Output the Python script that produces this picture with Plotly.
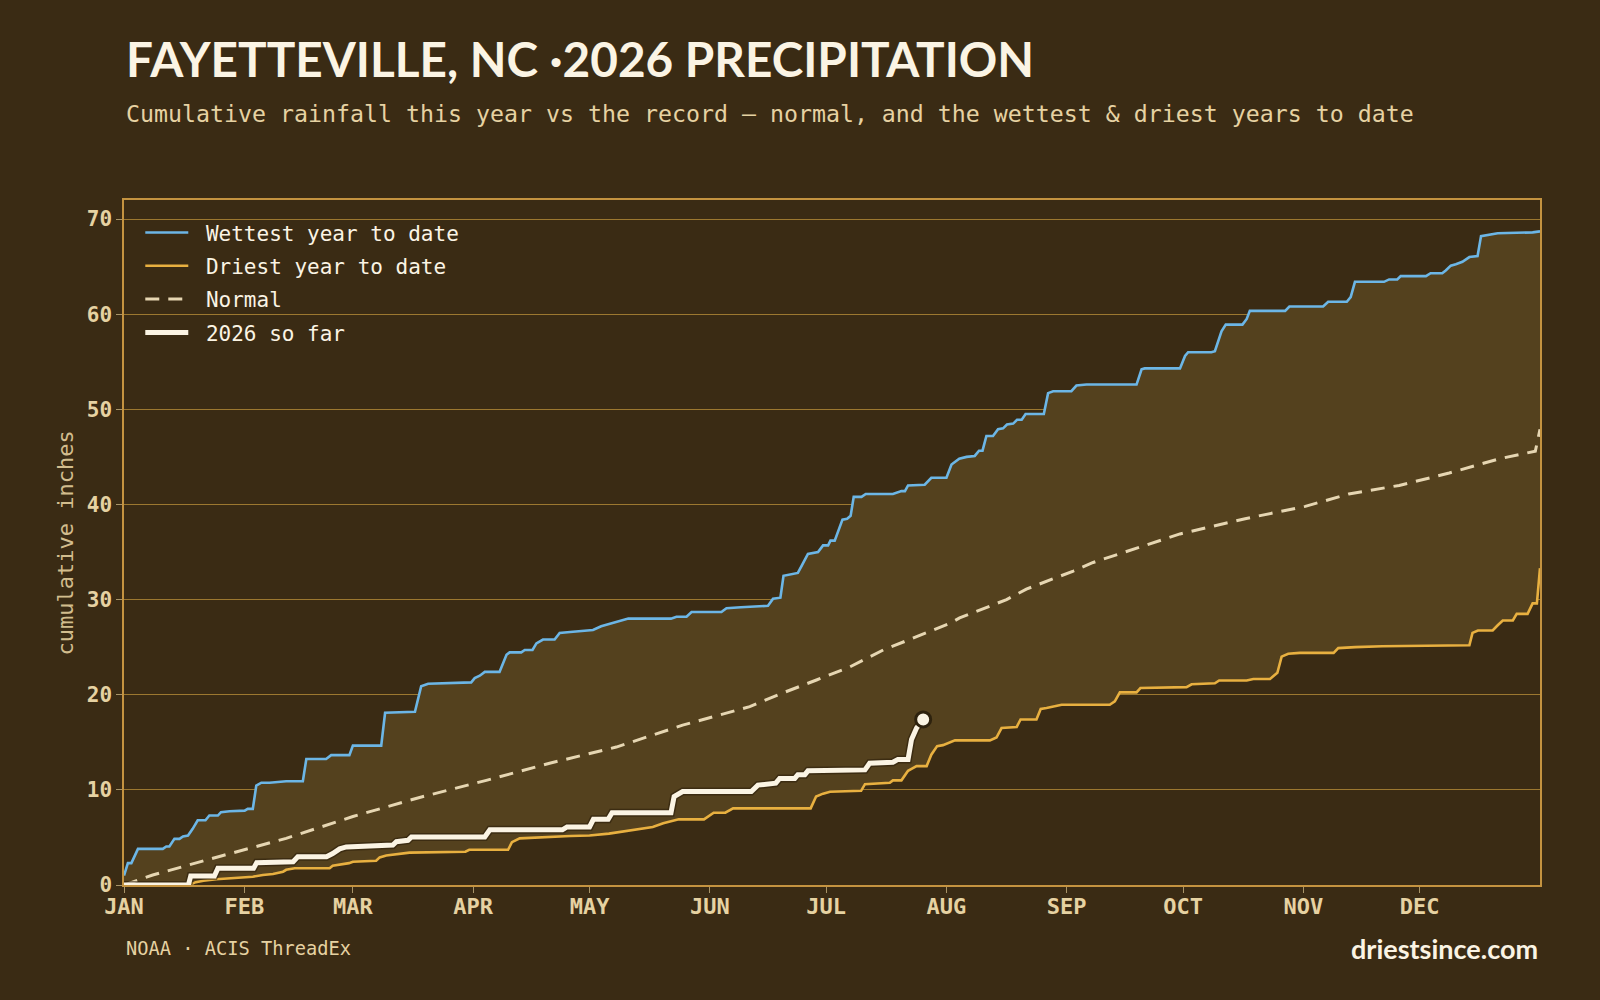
import pandas as pd
import plotly.graph_objects as go

# ---------------- data (day-of-year offsets from Jan 1, cumulative inches) ----------------
YEAR_START = "2026-01-01"
MONTH_STARTS = ["2026-01-01", "2026-02-01", "2026-03-01", "2026-04-01", "2026-05-01", "2026-06-01",
                "2026-07-01", "2026-08-01", "2026-09-01", "2026-10-01", "2026-11-01", "2026-12-01"]
MONTH_LABELS = ["JAN", "FEB", "MAR", "APR", "MAY", "JUN", "JUL", "AUG", "SEP", "OCT", "NOV", "DEC"]
Y_TICKS = [0, 10, 20, 30, 40, 50, 60, 70]

WET_DAY = [0, 1, 1.9, 3.6, 10, 10.9, 11.7, 13, 14.3, 15.2, 16.5, 17.7, 19, 21, 22, 24.2, 25, 27.2, 31.1,
           31.9, 33.2, 34.1, 35.4, 37.5, 41.8, 46.1, 47, 52.1, 53.4, 58.1, 59, 66.3, 67.3, 75, 76.6, 78.4,
           89.5, 90.4, 91.7, 93, 96.8, 98.6, 99.4, 102.4, 103.3, 105.3, 106.3, 108, 111, 112.3, 115,
           120.9, 123, 125.6, 130, 141, 142.4, 145, 146.3, 154, 155.3, 159, 166, 167.3, 169.2, 170, 172,
           173.7, 174.6, 176.3, 178.9, 180.2, 181.5, 182.1, 183.2, 185.2, 186.4, 187.3, 188.1, 190.1,
           191.2, 198.2, 200.4, 201.3, 202.1, 206.4, 208.1, 212, 213.3, 215.3, 217.2, 219.3, 220.4, 221.3,
           222.3, 224, 225.3, 226.6, 227.6, 229.2, 230.2, 231.4, 232.4, 237.1, 238.2, 239.5, 244.2, 245.5,
           248.1, 261, 262.3, 263.1, 272.2, 273.5, 274.3, 280.3, 281.2, 282.9, 284, 288.3, 289.4, 290.2,
           299.3, 300.4, 309.1, 310.4, 315.2, 316.2, 317.3, 324.8, 326.1, 328.2, 329.1, 335.6, 336.8,
           339.8, 340.7, 342, 343.3, 345, 346.8, 348.9, 349.8, 352.4, 354.1, 363.1, 365]
WET_VAL = [1.0, 2.3, 2.3, 3.8, 3.8, 4.05, 4.05, 4.85, 4.85, 5.1, 5.2, 5.9, 6.8, 6.8, 7.3, 7.3, 7.65, 7.75,
           7.82, 8.0, 8.0, 10.45, 10.75, 10.75, 10.9, 10.9, 13.25, 13.25, 13.65, 13.65, 14.65, 14.65, 18.1,
           18.2, 20.9, 21.15, 21.3, 21.75, 22.0, 22.4, 22.4, 24.2, 24.45, 24.45, 24.7, 24.7, 25.4, 25.8,
           25.8, 26.5, 26.6, 26.8, 27.2, 27.5, 28.0, 28.0, 28.2, 28.2, 28.7, 28.7, 29.1, 29.2, 29.35,
           30.1, 30.2, 32.5, 32.7, 32.8, 33.5, 34.8, 35.0, 35.7, 35.7, 36.2, 36.2, 38.4, 38.5, 38.8, 40.8,
           40.8, 41.1, 41.1, 41.4, 41.4, 42.0, 42.07, 42.8, 42.8, 44.2, 44.8, 45.0, 45.1, 45.65, 45.65,
           47.2, 47.2, 47.9, 48.0, 48.4, 48.5, 48.9, 48.9, 49.5, 49.5, 51.7, 51.9, 51.9, 52.5, 52.6, 52.6,
           54.2, 54.3, 54.3, 55.6, 56.0, 56.0, 56.1, 58.2, 58.9, 58.9, 59.5, 60.35, 60.35, 60.8, 60.8,
           61.3, 61.3, 61.8, 63.4, 63.4, 63.65, 63.65, 64.0, 64.0, 64.3, 64.3, 64.6, 65.1, 65.25, 65.5,
           66.0, 66.1, 68.2, 68.35, 68.5, 68.6, 68.7]

DRY_DAY = [0, 16.8, 18.5, 20.5, 23.8, 33.2, 35.8, 38.4, 41, 41.8, 44, 53, 53.8, 58, 59, 65, 65.9, 67.6,
           73.6, 88, 89, 99, 100, 102, 115, 120, 125, 128.4, 132.4, 136.3, 139, 143, 149.5, 152, 155,
           157, 177, 178.4, 180.2, 182, 190, 191, 197.4, 198.2, 200.4, 202.1, 203, 204.3, 206.9, 208.1,
           209.6, 211.1, 214.2, 223.2, 224.9, 226.2, 230.1, 231.1, 235.2, 236.3, 237.8, 240.4, 241.7,
           254.1, 255.4, 256.7, 261, 262, 273.9, 275.2, 281.2, 282.3, 289.4, 291.1, 295.4, 297.3, 298.4,
           300.1, 303.1, 311.8, 313, 317.4, 324.3, 346.8, 347.6, 349, 352.8, 354.1, 355.4, 358, 359,
           361.8, 363.1, 364.2, 365]
DRY_VAL = [0, 0, 0.3, 0.45, 0.6, 0.87, 1.05, 1.16, 1.4, 1.6, 1.76, 1.76, 2.03, 2.3, 2.45, 2.55, 2.9, 3.1,
           3.4, 3.5, 3.7, 3.7, 4.5, 4.9, 5.15, 5.2, 5.4, 5.6, 5.9, 6.1, 6.5, 6.9, 6.9, 7.6, 7.6, 8.05,
           8.05, 9.3, 9.6, 9.8, 9.9, 10.6, 10.75, 11.0, 11.0, 12.0, 12.2, 12.5, 12.5, 13.7, 14.6, 14.7,
           15.2, 15.2, 15.5, 16.5, 16.6, 17.4, 17.4, 18.5, 18.6, 18.8, 18.95, 18.95, 19.3, 20.25, 20.25,
           20.7, 20.8, 21.1, 21.2, 21.5, 21.5, 21.65, 21.65, 22.3, 24.0, 24.3, 24.4, 24.4, 24.9, 25.0,
           25.1, 25.2, 26.5, 26.75, 26.75, 27.3, 27.8, 27.8, 28.5, 28.5, 29.6, 29.6, 33.3]

NORM_DAY = [0, 7.4, 24.6, 41.8, 59, 76.2, 93.4, 109.7, 126.9, 144, 161.3, 169.9, 178.5, 187, 195.7,
            204.3, 212.9, 215.4, 227.5, 232.6, 244.7, 249.8, 262.7, 272.2, 289, 304.5, 315.7, 328.7,
            341.6, 354.5, 363.8, 364.4, 365]
NORM_VAL = [0, 1.05, 3.0, 4.9, 7.2, 9.2, 11.0, 12.8, 14.5, 16.8, 18.75, 20.2, 21.55, 22.9, 24.7, 26.1,
            27.5, 28.07, 30.0, 31.1, 33.0, 33.9, 35.6, 36.9, 38.5, 39.8, 41.1, 42.0, 43.3, 44.8, 45.6,
            46.7, 47.9]

CUR_DAY = [0, 16.6, 17.2, 23.3, 24.2, 33.4, 34.2, 43.6, 44.8, 52.2, 53.8, 55.6, 57.3, 69.3, 70.2, 73.2,
           74.1, 93, 94.3, 113, 114.2, 120, 121, 124.8, 125.8, 141, 141.8, 144, 161.7, 163.4, 168, 169,
           172.9, 173.7, 175.5, 176.3, 191, 192.2, 198.2, 199.5, 202.1, 203, 204.3, 206]
CUR_VAL = [0, 0, 0.95, 0.95, 1.75, 1.75, 2.35, 2.45, 2.97, 2.97, 3.3, 3.8, 4.0, 4.2, 4.55, 4.7, 5.05,
           5.05, 5.8, 5.8, 6.1, 6.1, 6.9, 6.9, 7.6, 7.6, 9.3, 9.82, 9.82, 10.5, 10.7, 11.2, 11.2, 11.6,
           11.6, 12.0, 12.1, 12.8, 12.9, 13.2, 13.2, 15.3, 16.5, 17.4]

TITLE = "FAYETTEVILLE, NC ·2026 PRECIPITATION"
SUBTITLE = "Cumulative rainfall this year vs the record — normal, and the wettest &amp; driest years to date"
SOURCE = "NOAA · ACIS ThreadEx"
BRAND = "driestsince.com"
LEGEND_NAMES = ["Wettest year to date", "Driest year to date", "Normal", "2026 so far"]

# ---------------- styling ----------------
BG = "#3a2b14"
FILL = "#54411e"
GRID = "#9c7830"
FRAME = "#c49340"
TAN = "#e6d2a2"
CREAM = "#fbf4e4"
BLUE = "#6cb6e6"
GOLD = "#e8b040"
NORMAL_C = "#e6d6b2"
MONO = "DejaVu Sans Mono"
SANS = "Lato"
PAD = "\u00a0"

base = pd.Timestamp(YEAR_START)


def to_dates(days):
    return [base + pd.Timedelta(days=d) for d in days]


fig = go.Figure()

# band between driest and wettest (no legend entries)
fig.add_trace(go.Scatter(
    x=to_dates(DRY_DAY), y=DRY_VAL, mode="lines", showlegend=False,
    line=dict(width=0, color=FILL), hoverinfo="skip"))
fig.add_trace(go.Scatter(
    x=to_dates(WET_DAY), y=WET_VAL, mode="lines", showlegend=False,
    line=dict(width=0, color=FILL), fill="tonexty", fillcolor=FILL, hoverinfo="skip"))

fig.add_trace(go.Scatter(
    x=to_dates(DRY_DAY), y=DRY_VAL, mode="lines", name=PAD + LEGEND_NAMES[1],
    line=dict(color=GOLD, width=2.6), legendrank=2, legendgroup="d", hoverinfo="skip"))
fig.add_trace(go.Scatter(
    x=to_dates(WET_DAY), y=WET_VAL, mode="lines", name=PAD + LEGEND_NAMES[0],
    line=dict(color=BLUE, width=2.6), legendrank=1, legendgroup="w", hoverinfo="skip"))
fig.add_trace(go.Scatter(
    x=to_dates(NORM_DAY), y=NORM_VAL, mode="lines", name=PAD + LEGEND_NAMES[2],
    line=dict(color=NORMAL_C, width=3, dash="14px,9px"), legendrank=3, legendgroup="n",
    hoverinfo="skip"))
# subtle dark halo under the current-year line
fig.add_trace(go.Scatter(
    x=to_dates(CUR_DAY), y=CUR_VAL, mode="lines", showlegend=False,
    line=dict(color="rgba(40,28,10,0.55)", width=8), hoverinfo="skip"))
fig.add_trace(go.Scatter(
    x=to_dates(CUR_DAY), y=CUR_VAL, mode="lines", name=PAD + LEGEND_NAMES[3],
    line=dict(color=CREAM, width=5), legendrank=4, legendgroup="c", hoverinfo="skip"))
fig.add_trace(go.Scatter(
    x=to_dates(CUR_DAY[-1:]), y=CUR_VAL[-1:], mode="markers", showlegend=False,
    marker=dict(size=15, color=CREAM, line=dict(color="#2e220e", width=3)), hoverinfo="skip"))

fig.update_layout(
    width=1600, height=1000,
    paper_bgcolor=BG, plot_bgcolor=BG,
    margin=dict(l=124, r=60, t=200, b=115),
    showlegend=True,
    legend=dict(
        x=0.0115, y=0.982, xanchor="left", yanchor="top",
        bgcolor="rgba(0,0,0,0)", borderwidth=0,
        font=dict(family=MONO, size=21, color=CREAM),
        tracegroupgap=3, itemwidth=43,
    ),
    xaxis=dict(
        range=[base, base + pd.Timedelta(days=365)],
        tickvals=MONTH_STARTS, ticktext=MONTH_LABELS,
        showgrid=False, zeroline=False,
        showline=True, linecolor=FRAME, linewidth=1.5, mirror=True,
        ticks="outside", ticklen=6, tickcolor="#a89468", tickwidth=1,
        ticklabelstandoff=-5,
        tickfont=dict(family=MONO, size=22, color=TAN, weight="bold"),
    ),
    yaxis=dict(
        range=[0, 72],
        tickvals=Y_TICKS,
        showgrid=True, gridcolor=GRID, gridwidth=1,
        zeroline=False,
        showline=True, linecolor=FRAME, linewidth=1.5, mirror=True,
        ticks="outside", ticklen=6, tickcolor="#a89468", tickwidth=1,
        tickfont=dict(family=MONO, size=21, color=TAN, weight="bold"),
    ),
    annotations=[
        dict(text=f"<b>{TITLE}</b>", xref="paper", yref="paper", x=0.0, y=1.206,
             xanchor="left", yanchor="middle", showarrow=False,
             font=dict(family=SANS, size=47.7, color=CREAM)),
        dict(text=SUBTITLE, xref="paper", yref="paper", x=0.0, y=1.127,
             xanchor="left", yanchor="middle", showarrow=False,
             font=dict(family=MONO, size=23.25, color=TAN)),
        dict(text="cumulative inches", xref="paper", yref="paper", x=-0.041, y=0.5,
             xanchor="center", yanchor="middle", textangle=-90, showarrow=False,
             font=dict(family=MONO, size=22, color="#d2bd8e")),
        dict(text=SOURCE, xref="paper", yref="paper", x=0.0, y=-0.092,
             xanchor="left", yanchor="middle", showarrow=False,
             font=dict(family=MONO, size=18.7, color=TAN)),
        dict(text=f"<b>{BRAND}</b>", xref="paper", yref="paper", x=1.0, y=-0.092,
             xanchor="right", yanchor="middle", showarrow=False,
             font=dict(family=SANS, size=27, color=CREAM)),
    ],
)

fig.write_html("out.html")
